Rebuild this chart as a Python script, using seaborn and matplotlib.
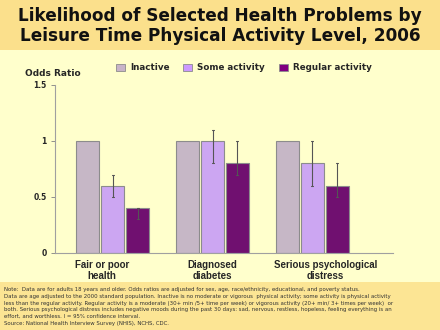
import matplotlib
matplotlib.use("Agg")
import matplotlib.pyplot as plt
import matplotlib.transforms as mtransforms
import seaborn as sns
import pandas as pd
from matplotlib.patches import Rectangle

categories = ["Fair or poor\nhealth", "Diagnosed\ndiabetes", "Serious psychological\ndistress"]
levels = ["Inactive", "Some activity", "Regular activity"]
inactive = [1.0, 1.0, 1.0]
some_activity = [0.6, 1.0, 0.8]
regular_activity = [0.4, 0.8, 0.6]
some_lo = [0.5, 0.8, 0.6]
some_hi = [0.7, 1.1, 1.0]
reg_lo = [0.3, 0.7, 0.5]
reg_hi = [0.4, 1.0, 0.8]
yticks = [0, 0.5, 1, 1.5]
ytick_labels = ["0", "0.5", "1", "1.5"]

title = "Likelihood of Selected Health Problems by\nLeisure Time Physical Activity Level, 2006"
note = ("Note:  Data are for adults 18 years and older. Odds ratios are adjusted for sex, age, race/ethnicity, educational, and poverty status.\n"
        "Data are age adjusted to the 2000 standard population. Inactive is no moderate or vigorous  physical activity; some activity is physical activity\n"
        "less than the regular activity. Regular activity is a moderate (30+ min /5+ time per week) or vigorous activity (20+ min/ 3+ times per week)  or\n"
        "both. Serious psychological distress includes negative moods during the past 30 days: sad, nervous, restless, hopeless, feeling everything is an\n"
        "effort, and worthless. I = 95% confidence interval.\n"
        "Source: National Health Interview Survey (NHIS), NCHS, CDC.")

rows = []
for lvl, vals in zip(levels, [inactive, some_activity, regular_activity]):
    for c, v in zip(categories, vals):
        rows.append({"cat": c, "level": lvl, "value": v})
df = pd.DataFrame(rows)

palette = {"Inactive": "#C8B4C8", "Some activity": "#CC99FF", "Regular activity": "#800080"}

sns.set_style("white")
plt.rcParams["font.family"] = ["DejaVu Sans"]

fig = plt.figure(figsize=(4.4, 3.3), dpi=100)
fig.patch.set_facecolor("#FFFFCC")
# bands
fig.add_artist(Rectangle((0, 1 - 50/330), 1, 50/330, transform=fig.transFigure,
                         facecolor="#FBE08C", edgecolor="none", zorder=0))
fig.add_artist(Rectangle((0, 0), 1, 48/330, transform=fig.transFigure,
                         facecolor="#FCE594", edgecolor="none", zorder=0))

ax = fig.add_axes([55/440, 1 - 253/330, (393 - 55)/440, (253 - 85)/330])
ax.set_facecolor("none")
sns.barplot(data=df, x="cat", y="value", hue="level", order=categories, hue_order=levels,
            palette=palette, errorbar=None, width=0.75, gap=0.08, ax=ax,
            edgecolor="#8C8C8C", linewidth=0.8, legend=False)

for cont, lo, hi in [(ax.containers[1], some_lo, some_hi), (ax.containers[2], reg_lo, reg_hi)]:
    for bar, l, h in zip(cont, lo, hi):
        xc = bar.get_x() + bar.get_width() / 2
        ax.plot([xc, xc], [l, h], color="#555555", lw=0.8, zorder=5)
        ax.plot([xc - 0.01, xc + 0.01], [h, h], color="#555555", lw=0.8, zorder=5)
        ax.plot([xc - 0.01, xc + 0.01], [l, l], color="#555555", lw=0.8, zorder=5)

ax.set_xlim(-0.58, 2.81)
ax.set_ylim(0, 1.5)
ax.set_yticks(yticks)
ax.set_yticklabels(ytick_labels, fontsize=5.5, fontweight="bold")
ax.tick_params(axis="y", length=3, width=0.6, color="#808080", pad=3, direction="out", left=True)
ax.tick_params(axis="x", length=0, pad=5)
ax.set_xticks(range(len(categories)))
ax.set_xticklabels(categories, fontsize=7, fontweight="bold", linespacing=1.15,
                   family=["Liberation Sans"])
# label boxes in the original are slightly offset from group centres
for lab, dx in zip(ax.get_xticklabels(), [-11, 0, 13]):
    lab.set_transform(lab.get_transform() + mtransforms.ScaledTranslation(dx / 100, 0, fig.dpi_scale_trans))
ax.set_xlabel("")
ax.set_ylabel("")
for s in ["top", "right"]:
    ax.spines[s].set_visible(False)
for s in ["left", "bottom"]:
    ax.spines[s].set_color("#A0A0A0")
    ax.spines[s].set_linewidth(0.8)

# legend
handles = [Rectangle((0, 0), 1, 1, facecolor=palette[l], edgecolor="#8C8C8C", lw=0.6) for l in levels]
fig.legend(handles, levels, loc="center", bbox_to_anchor=(244/440, 1 - 68/330), ncol=3, frameon=False,
           prop={"size": 6.3, "weight": "bold"}, handlelength=1.0, handleheight=1.0, columnspacing=1.6,
           handletextpad=0.6)

fig.text(53/440, 1 - 73/330, "Odds Ratio", fontsize=6.5, fontweight="bold", ha="center", va="center")

fig.text(0.5, 1 - 26/330, title, fontsize=12.2, fontweight="bold", ha="center", va="center",
         linespacing=1.15, color="#111111")

fig.text(4/440, 1 - 287/330, note, fontsize=3.9, ha="left", va="top", linespacing=1.45, color="#333333")

fig.savefig("out.png", dpi=100, facecolor=fig.get_facecolor())
